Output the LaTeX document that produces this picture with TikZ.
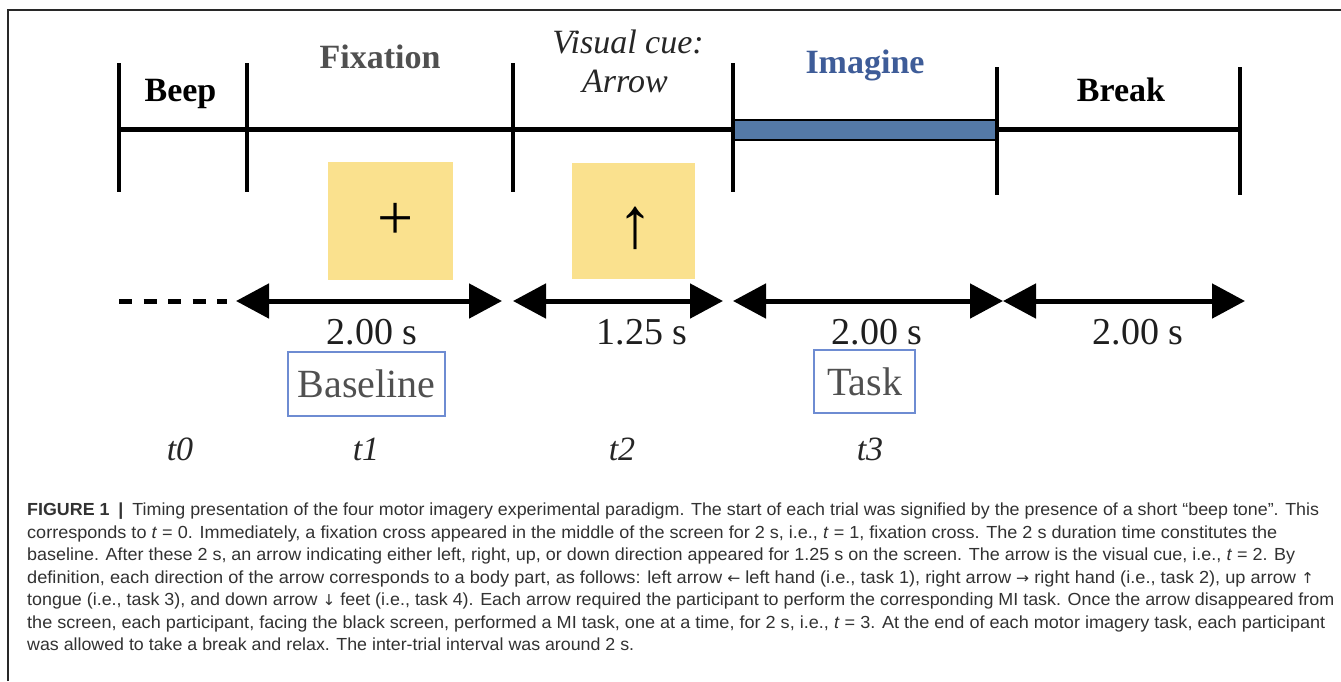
\documentclass[tikz,border=0pt]{standalone}
\usepackage{fontspec}
\usepackage{graphicx}
\setmainfont{Liberation Serif}
\newfontfamily\capfont{Liberation Sans}
\newfontfamily\arrfont{DejaVu Sans}
\usetikzlibrary{arrows.meta}
\definecolor{cueyellow}{RGB}{250,225,142}
\definecolor{barblue}{RGB}{84,121,166}
\definecolor{imblue}{RGB}{62,92,152}
\definecolor{boxblue}{RGB}{110,140,210}
\definecolor{txtgray}{RGB}{80,80,80}
\definecolor{capgray}{RGB}{50,50,50}
\definecolor{framegray}{RGB}{40,40,40}
\newcommand{\myfs}[1]{\fontsize{#1}{#1}\selectfont}
\newcommand{\carr}[1]{{\arrfont\myfs{15}#1}}
\begin{document}
\begin{tikzpicture}[x=1pt,y=-1pt,
  ticks/.style={line width=4.5pt,black},
  tline/.style={line width=5pt,black},
  dimarrow/.style={line width=5pt,black,{Triangle[length=33pt,width=34pt]}-{Triangle[length=33pt,width=34pt]}},
  dimdash/.style={line width=5pt,black,dash pattern=on 13pt off 11.5pt},
  lbl/.style={inner sep=0pt,anchor=base},
  phase/.style={lbl,font=\bfseries\myfs{34}},
  dur/.style={lbl,font=\myfs{38},text=black!88},
  tlab/.style={lbl,font=\itshape\myfs{34},text=black!85},
  cue/.style={fill=cueyellow,draw=none},
  labbox/.style={draw=boxblue,line width=2pt,inner sep=0pt,font=\myfs{40},text=txtgray},
  capline/.style={inner sep=0pt,anchor=base west,font=\capfont\myfs{17.5},text=capgray}
]
\useasboundingbox (0,0) rectangle (1341,681);
\fill[white] (0,0) rectangle (1341,681);
% frame
\draw[framegray,line width=1.3pt] (8,681) -- (8,10) -- (1341,10);

% tick coordinates
\foreach \x/\n/\t/\b in {119/1/63/192,247/2/63/192,513/3/63/192,733/4/63/192,997/5/67/195,1240/6/67/195}{
  \coordinate (tick\n t) at (\x,\t);
  \coordinate (tick\n b) at (\x,\b);
  \coordinate (tick\n m) at (\x,129);
}
% timeline
\draw[tline] (tick1m) -- (tick6m);
\draw[fill=barblue,line width=2.5pt] (733,120) rectangle (997,140);
\foreach \n in {1,...,6}{\draw[ticks] (tick\n t) -- (tick\n b);}

% phase labels
\node[phase] (beep) at (180.5,101) {Beep};
\node[phase,text=txtgray] (fixation) at (380,68) {Fixation};
\node[lbl,font=\itshape\myfs{34},text=black!85] (visual) at (628,53) {Visual cue:};
\node[lbl,font=\itshape\myfs{34},text=black!85] (arrowlbl) at (625,92) {Arrow};
\node[phase,text=imblue] (imagine) at (865,73) {Imagine};
\node[phase] (break) at (1121,101) {Break};

% cue screens
\fill[cue] (328,162) rectangle (453,280);
\fill[cue] (572,163) rectangle (695,279);
\node[inner sep=0pt,font=\myfs{64}] (plus) at (396,221) {+};
\node[inner sep=0pt,font=\myfs{72}] (uparrow) at (635,228) {↑};

% duration arrows
\coordinate (d0) at (119,301);
\coordinate (d1) at (227,301);
\coordinate (a1l) at (236,301);
\coordinate (a1r) at (502,301);
\coordinate (a2l) at (513,301);
\coordinate (a2r) at (723,301);
\coordinate (a3l) at (733,301);
\coordinate (a3r) at (1003,301);
\coordinate (a4r) at (1245,301);
\draw[dimdash] (d0) -- (d1);
\draw[dimarrow] (a1l) -- (a1r);
\draw[dimarrow] (a2l) -- (a2r);
\draw[dimarrow] (a3l) -- (a3r);
\draw[dimarrow] (a3r) -- (a4r);

\node[dur] (dur1) at (372,344) {2.00 s};
\node[dur] (dur2) at (642,344) {1.25 s};
\node[dur] (dur3) at (877,344) {2.00 s};
\node[dur] (dur4) at (1138,344) {2.00 s};

% boxes
\node[labbox,minimum width=157pt,minimum height=64pt] (baseline) at (366.5,384) {Baseline};
\node[labbox,minimum width=101pt,minimum height=63pt] (task) at (864.5,381.5) {Task};

% time labels
\node[tlab] (t0) at (180,460) {t0};
\node[tlab] (t1) at (366,460) {t1};
\node[tlab] (t2) at (622,460) {t2};
\node[tlab] (t3) at (870,460) {t3};

% caption
\node[capline] (cap1) at (27,515) {\resizebox{1292pt}{\height}{\textbf{FIGURE 1}\enspace\textbf{|}\enspace Timing presentation of the four motor imagery experimental paradigm. The start of each trial was signified by the presence of a short “beep tone”. This}};
\node[capline] (cap2) at (27,538) {\resizebox{1250pt}{\height}{corresponds to \textit{t} = 0. Immediately, a fixation cross appeared in the middle of the screen for 2 s, i.e., \textit{t} = 1, fixation cross. The 2 s duration time constitutes the}};
\node[capline] (cap3) at (27,560) {\resizebox{1268pt}{\height}{baseline. After these 2 s, an arrow indicating either left, right, up, or down direction appeared for 1.25 s on the screen. The arrow is the visual cue, i.e., \textit{t} = 2. By}};
\node[capline] (cap4) at (27,583) {\resizebox{1287pt}{\height}{definition, each direction of the arrow corresponds to a body part, as follows: left arrow \carr{←} left hand (i.e., task 1), right arrow \carr{→} right hand (i.e., task 2), up arrow \carr{↑}}};
\node[capline] (cap5) at (27,605) {\resizebox{1307pt}{\height}{tongue (i.e., task 3), and down arrow \carr{↓} feet (i.e., task 4). Each arrow required the participant to perform the corresponding MI task. Once the arrow disappeared from}};
\node[capline] (cap6) at (27,628) {\resizebox{1298pt}{\height}{the screen, each participant, facing the black screen, performed a MI task, one at a time, for 2 s, i.e., \textit{t} = 3. At the end of each motor imagery task, each participant}};
\node[capline] (cap7) at (27,650) {\resizebox{607pt}{\height}{was allowed to take a break and relax. The inter-trial interval was around 2 s.}};
\end{tikzpicture}
\end{document}
